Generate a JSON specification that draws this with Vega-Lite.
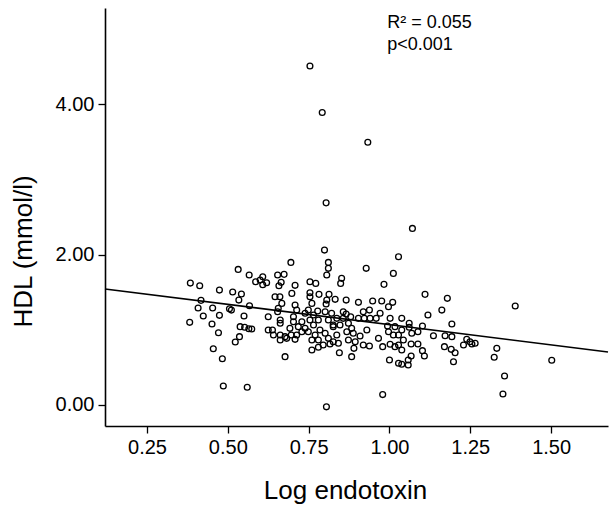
{
  "$schema": "https://vega.github.io/schema/vega-lite/v6.json",
  "width": 503,
  "height": 418,
  "autosize": {"type": "none"},
  "padding": {"left": 105, "top": 8, "right": 8, "bottom": 89},
  "background": "white",
  "config": {
    "view": {"stroke": null},
    "font": "Liberation Sans",
    "axis": {"grid": false, "domainColor": "black", "domainWidth": 1.6, "tickColor": "black", "tickWidth": 1.3, "tickSize": 7, "labelColor": "black", "titleColor": "black", "labelFont": "Liberation Sans", "titleFont": "Liberation Sans", "labelFontSize": 20, "titleFontSize": 26, "titleFontWeight": "normal", "labelPadding": 4}
  },
  "data": {"values": [
    {"x":0.532,"y":1.803},{"x":0.566,"y":1.728},{"x":0.384,"y":1.621},{"x":0.413,"y":1.585},{"x":0.474,"y":1.528},
    {"x":0.515,"y":1.502},{"x":0.542,"y":1.475},{"x":0.534,"y":1.395},{"x":0.417,"y":1.391},{"x":0.408,"y":1.289},
    {"x":0.453,"y":1.289},{"x":0.505,"y":1.280},{"x":0.511,"y":1.262},{"x":0.567,"y":1.320},{"x":0.424,"y":1.183},
    {"x":0.474,"y":1.192},{"x":0.550,"y":1.183},{"x":0.382,"y":1.099},{"x":0.451,"y":1.076},{"x":0.538,"y":1.041},
    {"x":0.552,"y":1.033},{"x":0.565,"y":1.014},{"x":0.574,"y":1.010},{"x":0.471,"y":0.961},{"x":0.536,"y":0.908},
    {"x":0.523,"y":0.837},{"x":0.455,"y":0.748},{"x":0.483,"y":0.615},{"x":0.486,"y":0.252},{"x":0.560,"y":0.235},
    {"x":0.586,"y":1.639},{"x":0.600,"y":1.661},{"x":0.608,"y":1.705},{"x":0.608,"y":1.599},{"x":0.620,"y":1.625},
    {"x":0.625,"y":1.173},{"x":0.625,"y":0.997},
    {"x":0.799,"y":2.060},{"x":0.695,"y":1.896},{"x":0.811,"y":1.896},{"x":0.811,"y":1.817},{"x":0.806,"y":1.728},
    {"x":0.654,"y":1.728},{"x":0.674,"y":1.737},{"x":0.665,"y":1.631},{"x":0.658,"y":1.585},{"x":0.708,"y":1.591},
    {"x":0.754,"y":1.639},{"x":0.772,"y":1.617},{"x":0.698,"y":1.484},{"x":0.754,"y":1.492},{"x":0.782,"y":1.471},
    {"x":0.813,"y":1.471},{"x":0.646,"y":1.439},{"x":0.661,"y":1.439},{"x":0.754,"y":1.439},{"x":0.806,"y":1.395},
    {"x":0.667,"y":1.351},{"x":0.708,"y":1.329},{"x":0.760,"y":1.351},{"x":0.804,"y":1.342},{"x":0.656,"y":1.285},
    {"x":0.713,"y":1.262},{"x":0.749,"y":1.262},{"x":0.778,"y":1.249},{"x":0.801,"y":1.240},{"x":0.654,"y":1.240},
    {"x":0.703,"y":1.173},{"x":0.739,"y":1.219},{"x":0.765,"y":1.196},{"x":0.821,"y":1.219},{"x":0.662,"y":1.130},
    {"x":0.662,"y":1.086},{"x":0.703,"y":1.107},{"x":0.729,"y":1.107},{"x":0.754,"y":1.130},{"x":0.780,"y":1.130},
    {"x":0.811,"y":1.130},{"x":0.638,"y":0.997},{"x":0.692,"y":1.019},{"x":0.718,"y":1.041},{"x":0.739,"y":1.019},
    {"x":0.765,"y":1.063},{"x":0.785,"y":0.997},{"x":0.826,"y":1.063},{"x":0.641,"y":0.930},{"x":0.662,"y":0.930},
    {"x":0.677,"y":0.908},{"x":0.696,"y":0.930},{"x":0.713,"y":0.930},{"x":0.729,"y":0.974},{"x":0.749,"y":0.974},
    {"x":0.770,"y":0.930},{"x":0.801,"y":0.953},{"x":0.662,"y":0.864},{"x":0.682,"y":0.886},{"x":0.708,"y":0.873},
    {"x":0.760,"y":0.864},{"x":0.780,"y":0.864},{"x":0.811,"y":0.886},{"x":0.795,"y":0.797},{"x":0.780,"y":0.767},
    {"x":0.760,"y":0.731},{"x":0.816,"y":0.811},{"x":0.677,"y":0.642},
    {"x":1.028,"y":1.971},{"x":0.928,"y":1.817},{"x":1.012,"y":1.750},{"x":0.852,"y":1.684},{"x":0.849,"y":1.617},
    {"x":0.983,"y":1.604},{"x":0.832,"y":1.405},{"x":0.866,"y":1.395},{"x":0.904,"y":1.365},{"x":0.948,"y":1.382},
    {"x":0.976,"y":1.382},{"x":1.010,"y":1.365},{"x":0.997,"y":1.306},{"x":0.857,"y":1.240},{"x":0.866,"y":1.209},
    {"x":0.919,"y":1.240},{"x":0.938,"y":1.262},{"x":0.971,"y":1.219},{"x":0.837,"y":1.152},{"x":0.857,"y":1.152},
    {"x":0.880,"y":1.173},{"x":0.904,"y":1.152},{"x":0.922,"y":1.152},{"x":0.940,"y":1.152},{"x":0.959,"y":1.152},
    {"x":1.002,"y":1.152},{"x":0.826,"y":1.041},{"x":0.847,"y":1.063},{"x":0.873,"y":1.086},{"x":0.883,"y":1.019},
    {"x":0.930,"y":0.997},{"x":0.994,"y":1.050},{"x":1.017,"y":1.041},{"x":0.837,"y":0.930},{"x":0.868,"y":0.974},
    {"x":0.888,"y":0.953},{"x":0.909,"y":0.917},{"x":0.966,"y":0.886},{"x":0.997,"y":0.974},{"x":1.012,"y":0.930},
    {"x":0.826,"y":0.841},{"x":0.842,"y":0.820},{"x":0.873,"y":0.864},{"x":0.894,"y":0.841},{"x":0.919,"y":0.797},
    {"x":0.938,"y":0.784},{"x":0.979,"y":0.775},{"x":1.002,"y":0.807},{"x":1.017,"y":0.775},{"x":0.890,"y":0.753},
    {"x":0.845,"y":0.695},{"x":0.883,"y":0.642},{"x":1.000,"y":0.598},{"x":1.028,"y":0.554},{"x":0.979,"y":0.138},
    {"x":1.110,"y":1.471},{"x":1.179,"y":1.418},{"x":1.119,"y":1.196},{"x":1.162,"y":1.262},{"x":1.038,"y":1.152},
    {"x":1.193,"y":1.076},{"x":1.061,"y":1.086},{"x":1.061,"y":1.033},{"x":1.102,"y":1.050},{"x":1.088,"y":0.974},
    {"x":1.069,"y":0.953},{"x":1.038,"y":0.997},{"x":1.028,"y":0.930},{"x":1.136,"y":0.921},{"x":1.172,"y":0.921},
    {"x":1.193,"y":0.908},{"x":1.239,"y":0.873},{"x":1.249,"y":0.841},{"x":1.255,"y":0.811},{"x":1.229,"y":0.797},
    {"x":1.043,"y":0.864},{"x":1.067,"y":0.811},{"x":1.088,"y":0.811},{"x":1.028,"y":0.797},{"x":1.170,"y":0.775},
    {"x":1.191,"y":0.740},{"x":1.203,"y":0.695},{"x":1.038,"y":0.731},{"x":1.102,"y":0.722},{"x":1.108,"y":0.651},
    {"x":1.067,"y":0.651},{"x":1.058,"y":0.598},{"x":1.198,"y":0.575},{"x":1.038,"y":0.541},{"x":1.058,"y":0.532},
    {"x":1.389,"y":1.316},{"x":1.265,"y":0.820},{"x":1.332,"y":0.753},{"x":1.324,"y":0.634},{"x":1.502,"y":0.594},
    {"x":1.356,"y":0.385},{"x":1.351,"y":0.146},
    {"x":0.754,"y":4.509},{"x":0.792,"y":3.890},{"x":0.933,"y":3.495},{"x":0.804,"y":2.688},{"x":1.071,"y":2.348},
    {"x":0.805,"y":-0.025}
  ]},
  "layer": [
    {
      "mark": {"type": "point", "shape": "circle", "filled": false, "color": "black", "size": 34, "strokeWidth": 1.3, "opacity": 1},
      "encoding": {
        "x": {"field": "x", "type": "quantitative", "scale": {"domain": [0.12, 1.676], "nice": false, "zero": false},
              "axis": {"values": [0.25, 0.5, 0.75, 1.0, 1.25, 1.5], "format": ".2f", "title": "Log endotoxin", "titlePadding": 20, "titleX": 240}},
        "y": {"field": "y", "type": "quantitative", "scale": {"domain": [-0.28, 5.28], "nice": false, "zero": false},
              "axis": {"values": [0, 2, 4], "format": ".2f", "title": "HDL (mmol/l)", "titlePadding": 19, "titleY": 243}}
      }
    },
    {
      "transform": [{"regression": "y", "on": "x", "extent": [0.12, 1.676]}],
      "mark": {"type": "line", "color": "black", "strokeWidth": 1.6},
      "encoding": {
        "x": {"field": "x", "type": "quantitative"},
        "y": {"field": "y", "type": "quantitative"}
      }
    },
    {
      "data": {"values": [{}]},
      "mark": {"type": "text", "align": "left", "baseline": "alphabetic", "fontSize": 18, "lineHeight": 22, "color": "black", "font": "Liberation Sans"},
      "encoding": {
        "x": {"datum": 0.993},
        "y": {"datum": 5.01},
        "text": {"value": ["R² = 0.055", "p<0.001"]}
      }
    }
  ]
}
